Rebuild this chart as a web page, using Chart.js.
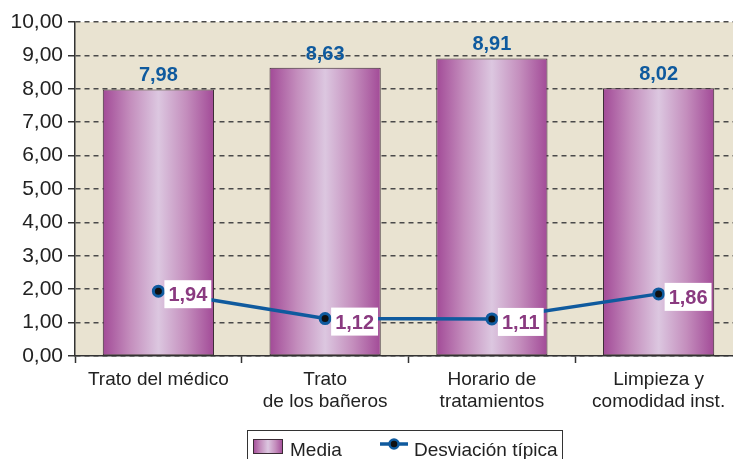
<!DOCTYPE html>
<html>
<head>
<meta charset="utf-8">
<script src="https://cdn.jsdelivr.net/npm/chart.js@4"></script>
<style>
  html, body { margin: 0; padding: 0; background: #fff; overflow: hidden; }
  #wrap { position: relative; width: 760px; height: 459px; }
</style>
</head>
<body>
<div id="wrap"><canvas id="myChart"></canvas></div>
<script>
const categories = [
  ['Trato del médico'],
  ['Trato', 'de los bañeros'],
  ['Horario de', 'tratamientos'],
  ['Limpieza y', 'comodidad inst.'],
]
const media = [7.98, 8.63, 8.91, 8.02]
const desviacion = [1.94, 1.12, 1.11, 1.86]
const yTicks = [0, 1, 2, 3, 4, 5, 6, 7, 8, 9, 10]
const legendLabels = ['Media', 'Desviación típica']

const FONT = "'Liberation Sans', Arial, sans-serif"
const BLUE = '#0f5a9e'
const PURPLE_TXT = '#8a3a80'
const BAR_PCT = 0.667

const fmt = v => v.toFixed(2).replace('.', ',')

const barGradient = (ctx, x0, x1) => {
  const g = ctx.createLinearGradient(x0, 0, x1, 0)
  g.addColorStop(0, '#a24a97')
  g.addColorStop(0.25, '#c48ebd')
  g.addColorStop(0.5, '#dcc7e0')
  g.addColorStop(0.75, '#c48ebd')
  g.addColorStop(1, '#a24a97')
  return g
}

// fondo beige del área de trazado
const plotBg = {
  id: 'plotBg',
  beforeDraw(chart) {
    const { ctx, chartArea: a } = chart
    ctx.save()
    ctx.fillStyle = '#e9e3d1'
    ctx.fillRect(a.left, a.top, a.right - a.left, a.bottom - a.top)
    ctx.restore()
  },
}

// etiquetas de valores (dataset 0 = línea, dataset 1 = barras)
const valueLabels = {
  id: 'valueLabels',
  afterDatasetsDraw(chart) {
    const { ctx } = chart
    ctx.save()
    ctx.font = 'bold 20px ' + FONT
    ctx.fillStyle = BLUE
    ctx.textAlign = 'center'
    ctx.textBaseline = 'alphabetic'
    chart.getDatasetMeta(1).data.forEach((bar, i) => {
      ctx.fillText(fmt(media[i]), bar.x, bar.y - 8)
    })
    ctx.textAlign = 'left'
    chart.getDatasetMeta(0).data.forEach((pt, i) => {
      const txt = fmt(desviacion[i])
      const w = ctx.measureText(txt).width + 8
      ctx.fillStyle = '#fff'
      ctx.fillRect(pt.x + 6, pt.y - 11, w, 28)
      ctx.fillStyle = PURPLE_TXT
      ctx.fillText(txt, pt.x + 10, pt.y + 10)
    })
    ctx.restore()
  },
}

// leyenda con marco
const boxLegend = {
  id: 'boxLegend',
  afterDraw(chart) {
    const { ctx } = chart
    ctx.save()
    ctx.strokeStyle = '#333'
    ctx.lineWidth = 1
    ctx.strokeRect(247.5, 430.5, 315, 40)

    ctx.fillStyle = barGradient(ctx, 253, 283)
    ctx.fillRect(253, 439, 30, 15)
    ctx.strokeStyle = '#3b2b35'
    ctx.strokeRect(253.5, 439.5, 29, 14)

    ctx.strokeStyle = BLUE
    ctx.lineWidth = 3.5
    ctx.beginPath()
    ctx.moveTo(380, 444)
    ctx.lineTo(408, 444)
    ctx.stroke()
    ctx.beginPath()
    ctx.arc(394, 444, 4.5, 0, Math.PI * 2)
    ctx.fillStyle = '#111'
    ctx.fill()
    ctx.lineWidth = 2.5
    ctx.stroke()

    ctx.font = '19px ' + FONT
    ctx.fillStyle = '#222'
    ctx.textBaseline = 'alphabetic'
    ctx.fillText(legendLabels[0], 290, 456)
    ctx.fillText(legendLabels[1], 414, 456)
    ctx.restore()
  },
}

new Chart(document.getElementById('myChart'), {
  data: {
    labels: categories,
    datasets: [
      {
        type: 'line',
        label: legendLabels[1],
        data: desviacion,
        borderColor: BLUE,
        borderWidth: 3.5,
        pointRadius: 5,
        pointBackgroundColor: '#111',
        pointBorderColor: BLUE,
        pointBorderWidth: 3,
        tension: 0,
        order: 0,
      },
      {
        type: 'bar',
        label: legendLabels[0],
        data: media,
        backgroundColor: c => {
          const x = c.chart.scales.x
          if (!x || !c.chart.chartArea) return '#b868ad'
          const cx = x.getPixelForValue(c.dataIndex)
          const half = (x.width / categories.length) * BAR_PCT / 2
          return barGradient(c.chart.ctx, cx - half, cx + half)
        },
        borderColor: '#3b2b35',
        borderWidth: 1,
        borderSkipped: false,
        barPercentage: BAR_PCT,
        categoryPercentage: 1,
        order: 1,
      },
    ],
  },
  options: {
    responsive: true,
    maintainAspectRatio: false,
    animation: false,
    events: [],
    layout: { padding: { top: 22, right: 18, left: 0, bottom: 0 } },
    plugins: {
      legend: { display: false },
      tooltip: { enabled: false },
    },
    scales: {
      x: {
        offset: true,
        grid: {
          offset: true,
          drawOnChartArea: false,
          tickLength: 7,
          tickColor: '#333',
          tickWidth: 1.5,
        },
        border: { color: '#333', width: 1.5 },
        ticks: {
          color: '#222',
          font: { family: FONT, size: 19, lineHeight: 1.15 },
          padding: 6,
          maxRotation: 0,
          autoSkip: false,
        },
        afterFit: s => { s.height = 103 },
      },
      y: {
        min: 0,
        max: 10,
        afterBuildTicks: s => { s.ticks = yTicks.map(v => ({ value: v })) },
        grid: {
          color: '#4a4a4a',
          lineWidth: 1.5,
          tickLength: 7,
          tickColor: '#333',
          tickWidth: 1.5,
          tickBorderDash: [],
        },
        border: { color: '#333', width: 1.5, dash: [5, 4] },
        ticks: {
          color: '#222',
          font: { family: FONT, size: 21 },
          padding: 5,
          callback: v => fmt(v),
        },
        afterFit: s => { s.width = 75 },
      },
    },
  },
  plugins: [plotBg, valueLabels, boxLegend],
})
</script>
</body>
</html>
